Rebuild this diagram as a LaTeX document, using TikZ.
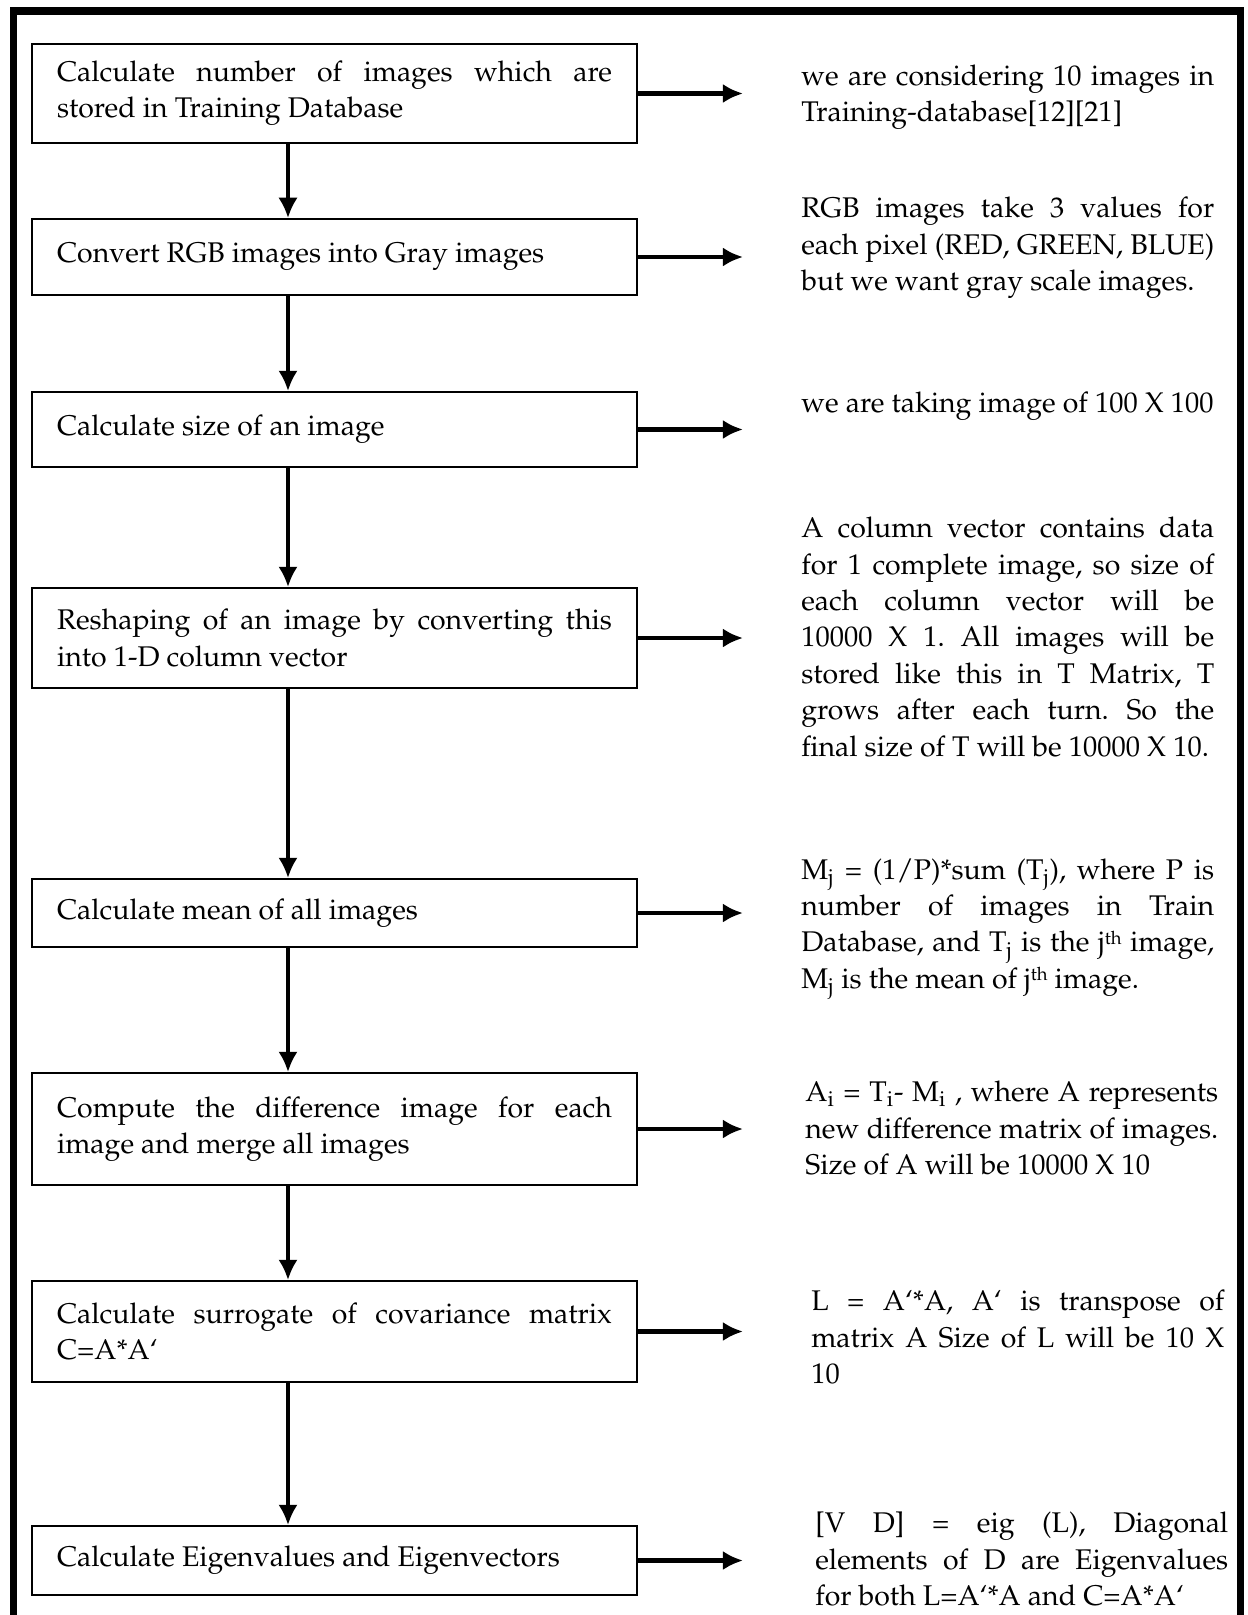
\documentclass[tikz,border=0pt]{standalone}
\usepackage[T1]{fontenc}
\usepackage{mathpazo}
\usepackage{tikz}
\usetikzlibrary{arrows.meta}
\tikzset{>={Latex[length=11.5pt,width=11pt]}}
\newcommand{\thup}{\raisebox{0.55ex}{\fontsize{10.5}{10.5}\selectfont th}}

\begin{document}
\begin{tikzpicture}[x=0.02cm, y=-0.02cm]
    % S = step boxes on the left, N = notes on the right
    \tikzstyle{every node}=[font=\fontsize{16.2}{20.7}\selectfont\frenchspacing]
    \tikzstyle{stepbox}=[draw=black, line width=1.2pt, text width=11.1cm, inner xsep=0.5cm, inner ysep=0pt, align=justify]
    \tikzstyle{note}=[anchor=west, text width=8.26cm, inner sep=0pt, align=justify]
    \tikzstyle{every edge}=[black, ->, line width=2pt, draw]
    \useasboundingbox (0,0) rectangle (1247,1615);
    \draw[line width=4pt] (13.5,1615) -- (13.5,11) -- (1240,11) -- (1240,1615);

    \coordinate (spine) at (288,0);
    \coordinate (tip) at (743,0);

    \node[stepbox, minimum height=1.98cm] (S1) at (334.5,93.5) {Calculate number of images which are\linebreak stored in Training Database};
    \node[stepbox, minimum height=1.52cm] (S2) at (334.5,257) {Convert RGB images into Gray images};
    \draw (S1.south -| spine) edge (S2.north -| spine);
    \node[stepbox, minimum height=1.5cm] (S3) at (334.5,429.5) {Calculate size of an image};
    \draw (S2.south -| spine) edge (S3.north -| spine);
    \node[stepbox, minimum height=2cm] (S4) at (334.5,638) {Reshaping of an image by converting this\linebreak into 1-D column vector};
    \draw (S3.south -| spine) edge (S4.north -| spine);
    \node[stepbox, minimum height=1.36cm] (S5) at (334.5,913) {Calculate mean of all images};
    \draw (S4.south -| spine) edge (S5.north -| spine);
    \node[stepbox, minimum height=2.24cm] (S6) at (334.5,1129) {Compute the difference image for each\linebreak image and merge all images};
    \draw (S5.south -| spine) edge (S6.north -| spine);
    \node[stepbox, minimum height=2.02cm] (S7) at (334.5,1331.5) {Calculate surrogate of covariance matrix\linebreak C=A*A`};
    \draw (S6.south -| spine) edge (S7.north -| spine);
    \node[stepbox, minimum height=1.38cm] (S8) at (334.5,1560.5) {Calculate Eigenvalues and Eigenvectors};
    \draw (S7.south -| spine) edge (S8.north -| spine);

    \node[note] (N1) at (801,97) {we are considering 10 images in\linebreak Training-database[12][21]};
    \draw (S1.east) edge[line width=2.6pt] (S1.east -| tip);
    \node[note] (N2) at (801,248) {RGB images take 3 values for\linebreak each pixel (RED, GREEN, BLUE)\linebreak but we want gray scale images.};
    \draw (S2.east) edge[line width=2.6pt] (S2.east -| tip);
    \node[note] (N3) at (801,406) {we are taking image of 100 X 100};
    \draw (S3.east) edge[line width=2.6pt] (S3.east -| tip);
    \node[note] (N4) at (801,637) {A column vector contains data\linebreak for 1 complete image, so size of\linebreak each column vector will be\linebreak 10000 X 1. All images will be\linebreak stored like this in T Matrix, T\linebreak grows after each turn. So the\linebreak final size of T will be 10000 X 10.};
    \draw (S4.east) edge[line width=2.6pt] (S4.east -| tip);
    \node[note] (N5) at (801,929) {M\textsubscript{j} = (1/P)*sum (T\textsubscript{j}), where P is\linebreak number of images in Train\linebreak Database, and T\textsubscript{j} is the j\thup{} image,\linebreak M\textsubscript{j} is the mean of j\thup{} image.};
    \draw (S5.east) edge[line width=2.6pt] (S5.east -| tip);
    \node[note] (N6) at (805,1128) {A\textsubscript{i} = T\textsubscript{i}- M\textsubscript{i} , where A represents\linebreak new difference matrix of images.\linebreak Size of A will be 10000 X 10};
    \draw (S6.east) edge[line width=2.6pt] (S6.east -| tip);
    \node[note] (N7) at (811,1337) {L = A`*A, A` is transpose of\linebreak matrix A Size of L will be 10 X\linebreak 10};
    \draw (S7.east) edge[line width=2.6pt] (S7.east -| tip);
    \node[note] (N8) at (815,1559) {[V D] = eig (L), Diagonal\linebreak elements of D are Eigenvalues\linebreak for both L=A`*A and C=A*A`};
    \draw (S8.east) edge[line width=2.6pt] (S8.east -| tip);
\end{tikzpicture}
\end{document}
